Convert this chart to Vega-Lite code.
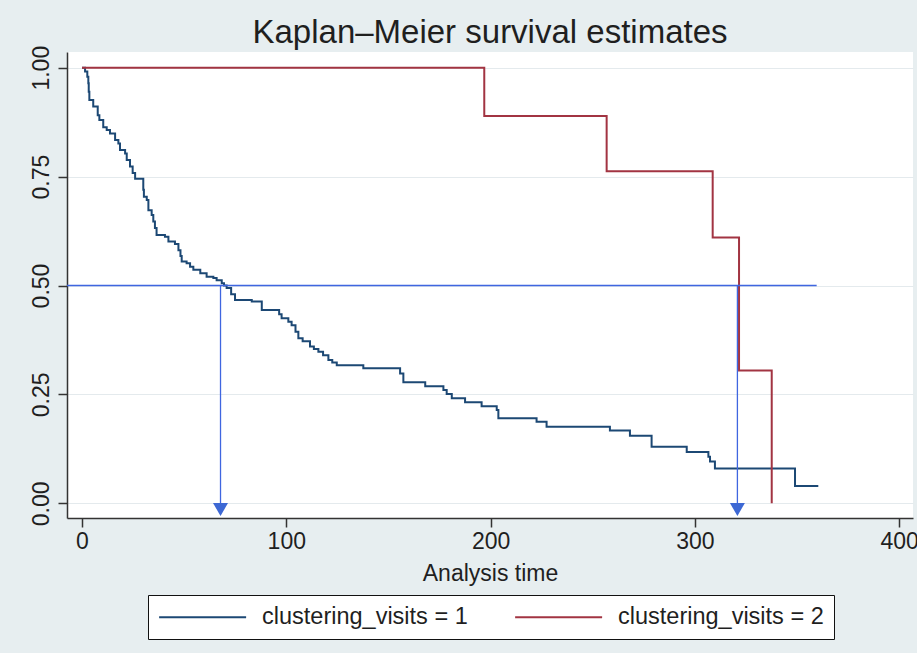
{
  "$schema": "https://vega.github.io/schema/vega-lite/v6.json",
  "width": 846,
  "height": 466,
  "autosize": {"type": "none"},
  "padding": {"left": 67, "top": 52, "right": 4, "bottom": 135},
  "background": "#e7eef0",
  "title": {
    "text": "Kaplan–Meier survival estimates",
    "fontSize": 33,
    "font": "Liberation Sans",
    "fontWeight": "normal",
    "color": "#1f1f1f",
    "anchor": "middle",
    "baseline": "alphabetic",
    "offset": 3,
    "dy": 34
  },
  "config": {
    "view": {"fill": "white", "stroke": null},
    "font": "Liberation Sans",
    "axis": {
      "labelFont": "Liberation Sans",
      "titleFont": "Liberation Sans",
      "labelFontSize": 23,
      "titleFontSize": 23,
      "titleFontWeight": "normal",
      "labelColor": "#1f1f1f",
      "titleColor": "#1f1f1f",
      "domainColor": "#333333",
      "domainWidth": 1.5,
      "tickColor": "#333333",
      "tickWidth": 1.5
    }
  },
  "datasets": {
    "km": [
      {"time": 0, "surv": 1.0, "group": "clustering_visits = 1"},
      {"time": 1.5, "surv": 0.991, "group": "clustering_visits = 1"},
      {"time": 2.6, "surv": 0.979, "group": "clustering_visits = 1"},
      {"time": 3.1, "surv": 0.964, "group": "clustering_visits = 1"},
      {"time": 3.3, "surv": 0.945, "group": "clustering_visits = 1"},
      {"time": 3.6, "surv": 0.926, "group": "clustering_visits = 1"},
      {"time": 5.5, "surv": 0.911, "group": "clustering_visits = 1"},
      {"time": 7.7, "surv": 0.891, "group": "clustering_visits = 1"},
      {"time": 8.5, "surv": 0.88, "group": "clustering_visits = 1"},
      {"time": 10.4, "surv": 0.863, "group": "clustering_visits = 1"},
      {"time": 12.1, "surv": 0.857, "group": "clustering_visits = 1"},
      {"time": 13.7, "surv": 0.849, "group": "clustering_visits = 1"},
      {"time": 16.2, "surv": 0.834, "group": "clustering_visits = 1"},
      {"time": 17.8, "surv": 0.826, "group": "clustering_visits = 1"},
      {"time": 18.6, "surv": 0.811, "group": "clustering_visits = 1"},
      {"time": 21.1, "surv": 0.803, "group": "clustering_visits = 1"},
      {"time": 21.9, "surv": 0.788, "group": "clustering_visits = 1"},
      {"time": 23.5, "surv": 0.773, "group": "clustering_visits = 1"},
      {"time": 24.8, "surv": 0.758, "group": "clustering_visits = 1"},
      {"time": 26.0, "surv": 0.745, "group": "clustering_visits = 1"},
      {"time": 30.0, "surv": 0.72, "group": "clustering_visits = 1"},
      {"time": 30.3, "surv": 0.704, "group": "clustering_visits = 1"},
      {"time": 31.7, "surv": 0.696, "group": "clustering_visits = 1"},
      {"time": 32.5, "surv": 0.673, "group": "clustering_visits = 1"},
      {"time": 34.1, "surv": 0.662, "group": "clustering_visits = 1"},
      {"time": 34.9, "surv": 0.647, "group": "clustering_visits = 1"},
      {"time": 35.7, "surv": 0.632, "group": "clustering_visits = 1"},
      {"time": 36.5, "surv": 0.616, "group": "clustering_visits = 1"},
      {"time": 40.6, "surv": 0.612, "group": "clustering_visits = 1"},
      {"time": 42.3, "surv": 0.601, "group": "clustering_visits = 1"},
      {"time": 45.5, "surv": 0.595, "group": "clustering_visits = 1"},
      {"time": 47.2, "surv": 0.581, "group": "clustering_visits = 1"},
      {"time": 48.2, "surv": 0.568, "group": "clustering_visits = 1"},
      {"time": 48.8, "surv": 0.555, "group": "clustering_visits = 1"},
      {"time": 51.2, "surv": 0.551, "group": "clustering_visits = 1"},
      {"time": 52.9, "surv": 0.543, "group": "clustering_visits = 1"},
      {"time": 54.5, "surv": 0.536, "group": "clustering_visits = 1"},
      {"time": 57.9, "surv": 0.528, "group": "clustering_visits = 1"},
      {"time": 61.0, "surv": 0.52, "group": "clustering_visits = 1"},
      {"time": 64.3, "surv": 0.517, "group": "clustering_visits = 1"},
      {"time": 65.9, "surv": 0.512, "group": "clustering_visits = 1"},
      {"time": 68.4, "surv": 0.505, "group": "clustering_visits = 1"},
      {"time": 69.5, "surv": 0.5, "group": "clustering_visits = 1"},
      {"time": 70.8, "surv": 0.494, "group": "clustering_visits = 1"},
      {"time": 73.0, "surv": 0.48, "group": "clustering_visits = 1"},
      {"time": 74.9, "surv": 0.467, "group": "clustering_visits = 1"},
      {"time": 83.1, "surv": 0.463, "group": "clustering_visits = 1"},
      {"time": 88.0, "surv": 0.444, "group": "clustering_visits = 1"},
      {"time": 96.5, "surv": 0.434, "group": "clustering_visits = 1"},
      {"time": 97.7, "surv": 0.425, "group": "clustering_visits = 1"},
      {"time": 101.0, "surv": 0.417, "group": "clustering_visits = 1"},
      {"time": 102.6, "surv": 0.409, "group": "clustering_visits = 1"},
      {"time": 104.5, "surv": 0.394, "group": "clustering_visits = 1"},
      {"time": 105.9, "surv": 0.379, "group": "clustering_visits = 1"},
      {"time": 108.0, "surv": 0.372, "group": "clustering_visits = 1"},
      {"time": 111.6, "surv": 0.36, "group": "clustering_visits = 1"},
      {"time": 113.5, "surv": 0.354, "group": "clustering_visits = 1"},
      {"time": 115.7, "surv": 0.348, "group": "clustering_visits = 1"},
      {"time": 118.0, "surv": 0.34, "group": "clustering_visits = 1"},
      {"time": 120.6, "surv": 0.329, "group": "clustering_visits = 1"},
      {"time": 122.5, "surv": 0.323, "group": "clustering_visits = 1"},
      {"time": 124.7, "surv": 0.317, "group": "clustering_visits = 1"},
      {"time": 137.7, "surv": 0.31, "group": "clustering_visits = 1"},
      {"time": 155.7, "surv": 0.298, "group": "clustering_visits = 1"},
      {"time": 157.3, "surv": 0.278, "group": "clustering_visits = 1"},
      {"time": 168.0, "surv": 0.269, "group": "clustering_visits = 1"},
      {"time": 176.9, "surv": 0.26, "group": "clustering_visits = 1"},
      {"time": 178.5, "surv": 0.251, "group": "clustering_visits = 1"},
      {"time": 181.0, "surv": 0.241, "group": "clustering_visits = 1"},
      {"time": 187.5, "surv": 0.232, "group": "clustering_visits = 1"},
      {"time": 195.6, "surv": 0.223, "group": "clustering_visits = 1"},
      {"time": 203.0, "surv": 0.214, "group": "clustering_visits = 1"},
      {"time": 203.8, "surv": 0.195, "group": "clustering_visits = 1"},
      {"time": 222.5, "surv": 0.187, "group": "clustering_visits = 1"},
      {"time": 227.4, "surv": 0.176, "group": "clustering_visits = 1"},
      {"time": 258.4, "surv": 0.167, "group": "clustering_visits = 1"},
      {"time": 268.2, "surv": 0.155, "group": "clustering_visits = 1"},
      {"time": 278.8, "surv": 0.13, "group": "clustering_visits = 1"},
      {"time": 296.0, "surv": 0.118, "group": "clustering_visits = 1"},
      {"time": 306.6, "surv": 0.107, "group": "clustering_visits = 1"},
      {"time": 307.4, "surv": 0.096, "group": "clustering_visits = 1"},
      {"time": 309.8, "surv": 0.08, "group": "clustering_visits = 1"},
      {"time": 349.0, "surv": 0.04, "group": "clustering_visits = 1"},
      {"time": 360.4, "surv": 0.04, "group": "clustering_visits = 1"},
      {"time": 0, "surv": 1.0, "group": "clustering_visits = 2"},
      {"time": 196.9, "surv": 0.889, "group": "clustering_visits = 2"},
      {"time": 256.8, "surv": 0.762, "group": "clustering_visits = 2"},
      {"time": 308.7, "surv": 0.61, "group": "clustering_visits = 2"},
      {"time": 321.6, "surv": 0.305, "group": "clustering_visits = 2"},
      {"time": 337.6, "surv": 0.0, "group": "clustering_visits = 2"}
    ],
    "hline": [
      {"time": -7.34, "surv": 0.5},
      {"time": 359.6, "surv": 0.5}
    ],
    "vlines": [
      {"time": 67.8, "surv": 0.5, "surv2": -0.024},
      {"time": 320.8, "surv": 0.5, "surv2": -0.024}
    ],
    "heads": [
      {"time": 67.8, "surv": -0.0142},
      {"time": 320.8, "surv": -0.0142}
    ]
  },
  "layer": [
    {
      "data": {"name": "km"},
      "mark": {"type": "line", "interpolate": "step-after", "strokeWidth": 2, "clip": true},
      "encoding": {
        "x": {
          "field": "time",
          "type": "quantitative",
          "scale": {"domain": [-7.34, 406.75], "nice": false, "zero": false},
          "axis": {
            "title": "Analysis time",
            "values": [0, 100, 200, 300, 400],
            "grid": false,
            "tickSize": 9,
            "labelPadding": 3,
            "titlePadding": 9,
            "labelFlush": false
          }
        },
        "y": {
          "field": "surv",
          "type": "quantitative",
          "scale": {"domain": [-0.0337, 1.036], "nice": false, "zero": false},
          "axis": {
            "title": null,
            "values": [0, 0.25, 0.5, 0.75, 1],
            "format": ".2f",
            "labelAngle": 270,
            "labelAlign": "center",
            "labelBaseline": "bottom",
            "tickSize": 9,
            "labelPadding": 5,
            "grid": true,
            "gridColor": "#e4eaed",
            "gridWidth": 1,
            "labelFlush": false
          }
        },
        "color": {
          "field": "group",
          "type": "nominal",
          "scale": {
            "domain": ["clustering_visits = 1", "clustering_visits = 2"],
            "range": ["#1c4874", "#a23442"]
          },
          "legend": {
            "title": null,
            "orient": "none",
            "legendX": 81,
            "legendY": 543,
            "direction": "horizontal",
            "fillColor": "white",
            "strokeColor": "#111111",
            "padding": 10,
            "symbolType": "M-1,0H7",
            "symbolSize": 473,
            "symbolStrokeWidth": 2,
            "labelFont": "Liberation Sans",
            "labelFontSize": 23.5,
            "labelLimit": 400,
            "labelColor": "#1f1f1f",
            "labelOffset": 80,
            "columnPadding": 43
          }
        }
      }
    },
    {
      "data": {"name": "hline"},
      "mark": {"type": "line", "stroke": "#3f66e0", "strokeWidth": 1.4},
      "encoding": {
        "x": {"field": "time", "type": "quantitative"},
        "y": {"field": "surv", "type": "quantitative"}
      }
    },
    {
      "data": {"name": "vlines"},
      "mark": {"type": "rule", "color": "#3f66e0", "stroke": "#3f66e0", "strokeWidth": 1.3},
      "encoding": {
        "x": {"field": "time", "type": "quantitative"},
        "y": {"field": "surv", "type": "quantitative"},
        "y2": {"field": "surv2"}
      }
    },
    {
      "data": {"name": "heads"},
      "mark": {"type": "point", "shape": "triangle-down", "filled": true, "size": 225, "color": "#3d68d4", "opacity": 1},
      "encoding": {
        "x": {"field": "time", "type": "quantitative"},
        "y": {"field": "surv", "type": "quantitative"}
      }
    }
  ]
}
